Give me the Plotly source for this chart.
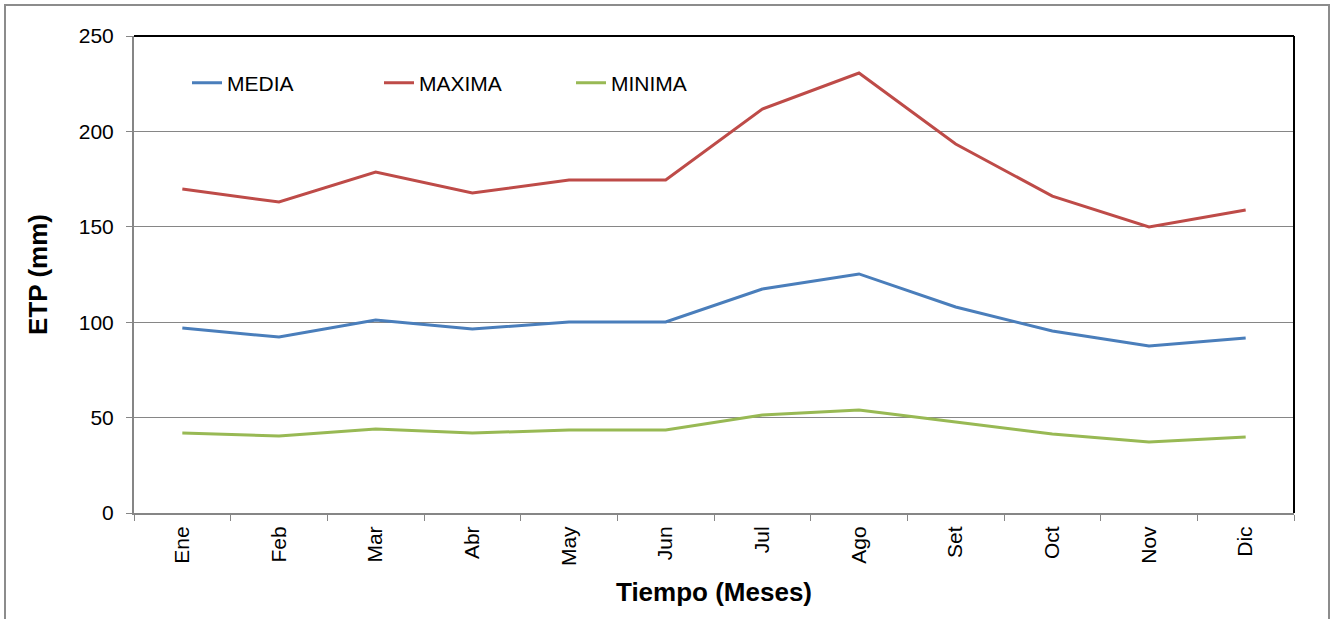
import plotly.graph_objects as go

meses = ["Ene", "Feb", "Mar", "Abr", "May", "Jun", "Jul", "Ago", "Set", "Oct", "Nov", "Dic"]
media = [97.0, 92.2, 101.2, 96.4, 100.1, 100.1, 117.4, 125.3, 108.0, 95.4, 87.5, 91.7]
maxima = [169.8, 163.0, 178.7, 167.7, 174.5, 174.5, 211.7, 230.6, 193.4, 166.1, 149.9, 158.8]
minima = [41.9, 40.4, 44.0, 41.9, 43.5, 43.5, 51.4, 54.0, 47.7, 41.4, 37.2, 39.8]
y_ticks = [0, 50, 100, 150, 200, 250]

FONT = "Liberation Sans, Arial, sans-serif"

fig = go.Figure()
fig.add_trace(go.Scatter(x=meses, y=media, mode="lines", name="MEDIA",
                         line=dict(color="#4A7EBB", width=3)))
fig.add_trace(go.Scatter(x=meses, y=maxima, mode="lines", name="MAXIMA",
                         line=dict(color="#BE4B48", width=3)))
fig.add_trace(go.Scatter(x=meses, y=minima, mode="lines", name="MINIMA",
                         line=dict(color="#98B954", width=3)))

L, R, T, B = 134, 42, 36, 106
W, H = 1336, 619
pw, ph = W - L - R, H - T - B

def px_x(p):
    return (p - L) / pw

def px_y(p):
    return (H - B - p) / ph

fig.update_layout(
    width=W, height=H,
    margin=dict(l=L, r=R, t=T, b=B),
    paper_bgcolor="white", plot_bgcolor="white",
    font=dict(family=FONT, color="black", size=21),
    showlegend=True,
    legend=dict(orientation="h", x=px_x(187), y=px_y(83), xanchor="left", yanchor="middle",
                font=dict(size=21, family=FONT), entrywidth=147, bgcolor="rgba(0,0,0,0)"),
    xaxis=dict(type="category", range=[-0.5, 11.5], tickson="boundaries",
               ticks="outside", ticklen=6, tickcolor="#868686", tickwidth=1,
               showline=True, linecolor="#868686", linewidth=2,
               showgrid=False, tickangle=-90, tickfont=dict(size=21),
               ticklabelstandoff=3,
               title=dict(text="<b>Tiempo (Meses)</b>", font=dict(size=26), standoff=18),
               fixedrange=True),
    yaxis=dict(range=[0, 250], tickvals=y_ticks, ticks="outside", ticklen=6,
               tickcolor="#868686", showline=True, linecolor="#868686", linewidth=2,
               showgrid=True, gridcolor="#868686", gridwidth=1, zeroline=False,
               tickfont=dict(size=21), ticklabelstandoff=8,
               title=dict(text="<b>ETP (mm)</b>", font=dict(size=26), standoff=24),
               fixedrange=True),
    shapes=[
        dict(type="line", xref="paper", yref="paper", x0=0, x1=1, y0=1, y1=1,
             line=dict(color="black", width=2)),
        dict(type="line", xref="paper", yref="paper", x0=1, x1=1, y0=0, y1=1,
             line=dict(color="black", width=2)),
        dict(type="rect", xref="paper", yref="paper",
             x0=px_x(5), x1=px_x(1329), y0=px_y(640), y1=px_y(5),
             line=dict(color="#8C8C8C", width=2)),
    ],
)

fig.write_html("out.html", config={"displayModeBar": False},
               post_script="document.body.style.margin='0';")
